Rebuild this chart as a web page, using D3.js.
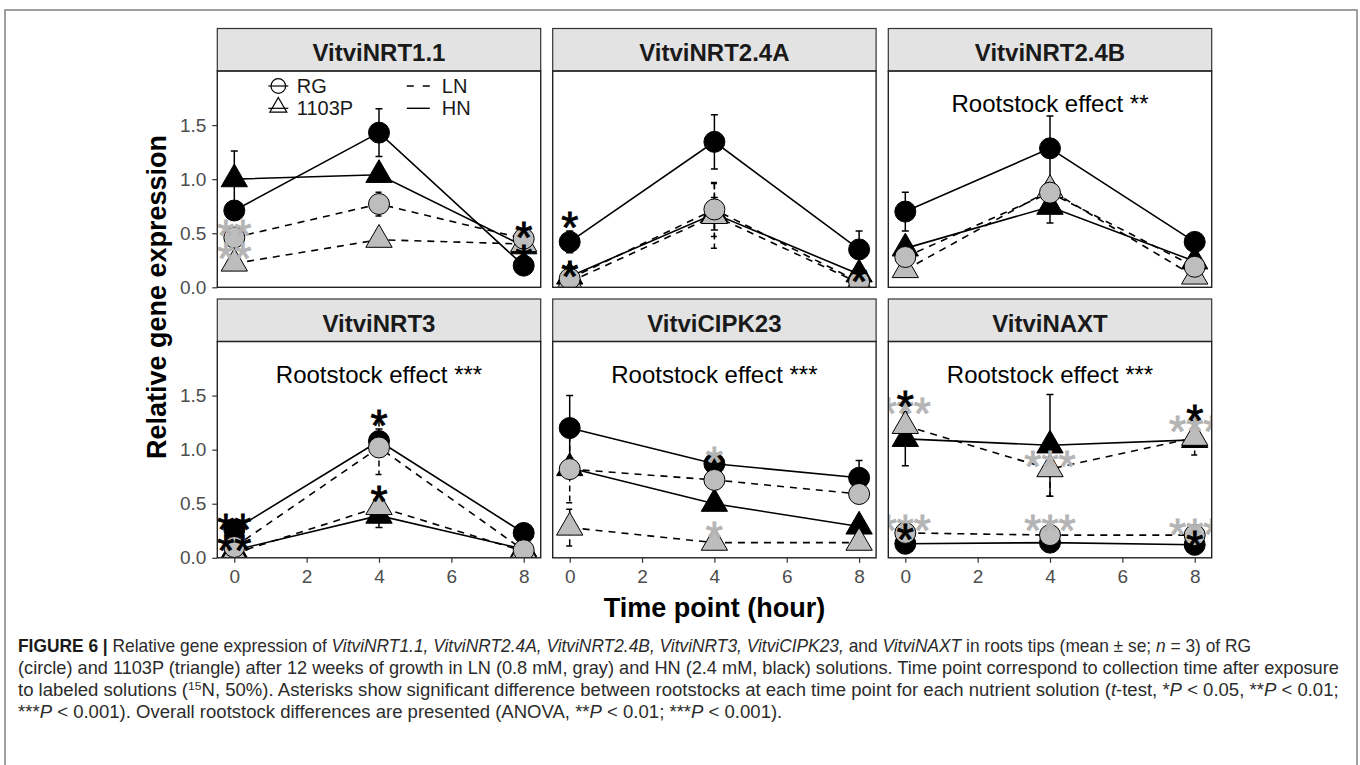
<!DOCTYPE html>
<html>
<head>
<meta charset="utf-8">
<script src="https://cdn.jsdelivr.net/npm/d3@7"></script>
<style>
  body { margin: 0; background: #fff; }
  text { font-family: "Liberation Sans", Arial, sans-serif; }
</style>
</head>
<body>
<div id="chart"></div>
<script>
// --- data ---
const times = [0, 4, 8];
const genes = ["VitviNRT1.1", "VitviNRT2.4A", "VitviNRT2.4B", "VitviNRT3", "VitviCIPK23", "VitviNAXT"];
const effectLabels = ["", "", "Rootstock effect **", "Rootstock effect ***", "Rootstock effect ***", "Rootstock effect ***"];

// mean relative expression per gene at times 0, 4, 8
const rgHN = [[0.71, 1.43, 0.20], [0.42, 1.345, 0.35], [0.70, 1.285, 0.42], [0.26, 1.08, 0.23], [1.20, 0.87, 0.74], [0.13, 0.14, 0.12]];
const rgLN = [[0.46, 0.77, 0.45], [0.08, 0.72, 0.05], [0.28, 0.875, 0.19], [0.10, 1.02, 0.07], [0.82, 0.72, 0.59], [0.23, 0.21, 0.21]];
const p1103HN = [[1.00, 1.04, 0.38], [0.10, 0.68, 0.12], [0.36, 0.745, 0.24], [0.07, 0.39, 0.08], [0.83, 0.50, 0.29], [1.10, 1.04, 1.09]];
const p1103LN = [[0.22, 0.44, 0.40], [0.05, 0.66, 0.04], [0.16, 0.90, 0.10], [0.04, 0.47, 0.06], [0.28, 0.14, 0.14], [1.22, 0.82, 1.11]];

// standard errors
const rgHNse = [[0.05, 0.22, 0.03], [0.10, 0.25, 0.17], [0.18, 0.30, 0.03], [0.04, 0.11, 0.03], [0.30, 0.05, 0.16], [0.02, 0.02, 0.02]];
const rgLNse = [[0.04, 0.11, 0.04], [0.03, 0.25, 0.03], [0.03, 0.10, 0.03], [0.03, 0.25, 0.02], [0.31, 0.05, 0.04], [0.02, 0.02, 0.02]];
const p1103HNse = [[0.26, 0.05, 0.03], [0.03, 0.15, 0.03], [0.03, 0.15, 0.03], [0.02, 0.11, 0.02], [0.05, 0.05, 0.03], [0.25, 0.47, 0.03]];
const p1103LNse = [[0.03, 0.03, 0.03], [0.02, 0.30, 0.02], [0.02, 0.05, 0.02], [0.02, 0.05, 0.02], [0.17, 0.05, 0.02], [0.12, 0.25, 0.16]];

// t-test asterisks: [gene index, time, level, label, solution]
const stars = [
  [0, 0, 0.57, "**", "LN"], [0, 0, 0.35, "**", "LN"], [0, 8, 0.55, "*", "HN"], [0, 8, 0.33, "*", "HN"],
  [1, 0, 0.64, "*", "HN"], [1, 0, 0.19, "*", "HN"], [1, 8, 0.14, "*", "HN"],
  [3, 0, 0.35, "**", "HN"], [3, 0, 0.15, "**", "HN"], [3, 4, 1.31, "*", "HN"], [3, 4, 0.61, "*", "HN"],
  [4, 4, 0.97, "*", "LN"], [4, 4, 0.27, "*", "LN"],
  [5, 0, 1.42, "***", "LN"], [5, 0, 1.49, "*", "HN"], [5, 4, 0.93, "***", "LN"], [5, 8, 1.25, "***", "LN"], [5, 8, 1.36, "*", "HN"],
  [5, 0, 0.335, "***", "LN"], [5, 0, 0.26, "*", "HN"], [5, 4, 0.335, "***", "LN"], [5, 8, 0.30, "***", "LN"], [5, 8, 0.195, "*", "HN"]
];

const rootstocks = ["RG", "1103P"];
const solutions = ["LN", "HN"];
const xTicks = [0, 2, 4, 6, 8];
const yTicks = [0, 0.5, 1, 1.5];

const captionLines = [
  [["FIGURE 6 | ", "b"], ["Relative gene expression of ", ""], ["VitviNRT1.1, VitviNRT2.4A, VitviNRT2.4B, VitviNRT3, VitviCIPK23,", "i"], [" and ", ""], ["VitviNAXT", "i"], [" in roots tips (mean \u00b1 se; ", ""], ["n", "i"], [" = 3) of RG", ""]],
  [["(circle) and 1103P (triangle) after 12 weeks of growth in LN (0.8 mM, gray) and HN (2.4 mM, black) solutions. Time point correspond to collection time after exposure", ""]],
  [["to labeled solutions (", ""], ["15", "sup"], ["N, 50%). Asterisks show significant difference between rootstocks at each time point for each nutrient solution (", ""], ["t", "i"], ["-test, *", ""], ["P", "i"], [" < 0.05, **", ""], ["P", "i"], [" < 0.01;", ""]],
  [["***", ""], ["P", "i"], [" < 0.001). Overall rootstock differences are presented (ANOVA, **", ""], ["P", "i"], [" < 0.01; ***", ""], ["P", "i"], [" < 0.001).", ""]]
];

// --- layout ---
const W = 1360, H = 765;
const pw = 323.4, ph = 216.3, stripH = 42.5;
const colX = [217.3, 552.7, 888.3];
const rowTop = [71, 341.5];
const grayFill = "#bdbdbd", grayStar = "#b4b4b4";
const starSize = 44;

const series = [
  { shape: "tri", sol: "HN", vals: p1103HN, se: p1103HNse },
  { shape: "tri", sol: "LN", vals: p1103LN, se: p1103LNse },
  { shape: "circ", sol: "HN", vals: rgHN, se: rgHNse },
  { shape: "circ", sol: "LN", vals: rgLN, se: rgLNse }
];

const svg = d3.select("#chart").append("svg").attr("width", W).attr("height", H);
svg.append("rect").attr("width", W).attr("height", H).attr("fill", "#fff");
svg.append("rect").attr("x", 5).attr("y", 10).attr("width", 1352).attr("height", 780)
  .attr("fill", "none").attr("stroke", "#808080").attr("stroke-width", 1.5);

const defs = svg.append("defs");
const x = d3.scaleLinear().domain([-0.47, 8.47]).range([0, pw]);
const y = d3.scaleLinear().domain([0, 2]).range([ph, 0]);
const line = d3.line().x((d, i) => x(times[i])).y((d) => y(d));
const tri = (size) => d3.symbol(d3.symbolTriangle, size)();

genes.forEach((gene, gi) => {
  const col = gi % 3, row = Math.floor(gi / 3);
  const g = svg.append("g").attr("transform", `translate(${colX[col]},${rowTop[row]})`);

  // strip
  g.append("rect").attr("y", -stripH).attr("width", pw).attr("height", stripH)
    .attr("fill", "#e3e3e3").attr("stroke", "#333").attr("stroke-width", 1.2);
  g.append("text").attr("x", pw / 2).attr("y", -stripH + 32.5).attr("text-anchor", "middle")
    .attr("font-size", 24).attr("font-weight", "bold").attr("fill", "#1a1a1a").text(gene);

  defs.append("clipPath").attr("id", "clip" + gi)
    .append("rect").attr("width", pw).attr("height", ph);
  const body = g.append("g").attr("clip-path", `url(#clip${gi})`);

  // error bars
  series.forEach((s) => {
    s.vals[gi].forEach((v, i) => {
      const lo = y(v - s.se[gi][i]), hi = y(v + s.se[gi][i]), cx = x(times[i]);
      const eb = body.append("path")
        .attr("d", `M${cx - 3.5},${hi}H${cx + 3.5}M${cx},${hi}V${lo}M${cx - 3.5},${lo}H${cx + 3.5}`)
        .attr("fill", "none").attr("stroke", "#000").attr("stroke-width", 1.5);
      if (s.sol === "LN") eb.attr("stroke-dasharray", "6,4");
    });
  });

  // lines
  series.forEach((s) => {
    body.append("path").attr("d", line(s.vals[gi])).attr("fill", "none")
      .attr("stroke", "#000").attr("stroke-width", 1.6)
      .attr("stroke-dasharray", s.sol === "LN" ? "7,6" : null);
  });

  // points
  series.forEach((s) => {
    const fill = s.sol === "LN" ? grayFill : "#000";
    s.vals[gi].forEach((v, i) => {
      if (s.shape === "circ") {
        body.append("circle").attr("cx", x(times[i])).attr("cy", y(v)).attr("r", 10.5)
          .attr("fill", fill).attr("stroke", "#000").attr("stroke-width", 1);
      } else {
        body.append("path").attr("d", tri(300))
          .attr("transform", `translate(${x(times[i])},${y(v)})`)
          .attr("fill", fill).attr("stroke", "#000").attr("stroke-width", 1);
      }
    });
  });

  // significance asterisks
  stars.filter((d) => d[0] === gi).forEach((d) => {
    const c = d[4] === "LN" ? grayStar : "#000";
    body.append("text").attr("x", x(d[1])).attr("y", y(d[2]) + starSize * 0.565)
      .attr("text-anchor", "middle").attr("font-size", starSize)
      .attr("fill", c).attr("stroke", c).attr("stroke-width", 0.9).text(d[3]);
  });

  if (effectLabels[gi]) {
    g.append("text").attr("x", pw / 2).attr("y", y(1.62)).attr("text-anchor", "middle")
      .attr("font-size", 24).attr("fill", "#000").text(effectLabels[gi]);
  }

  // panel border
  g.append("rect").attr("width", pw).attr("height", ph).attr("fill", "none")
    .attr("stroke", "#222").attr("stroke-width", 1.4);

  if (col === 0) {
    const ay = g.append("g")
      .call(d3.axisLeft(y).tickValues(yTicks).tickFormat(d3.format(".1f")).tickSize(5).tickPadding(6));
    ay.select(".domain").remove();
    ay.attr("font-size", 19).attr("font-family", "Liberation Sans, Arial, sans-serif").attr("color", "#4d4d4d");
    ay.selectAll("line").attr("stroke", "#333").attr("stroke-width", 1.2);
  }
  if (row === 1) {
    const ax = g.append("g").attr("transform", `translate(0,${ph})`)
      .call(d3.axisBottom(x).tickValues(xTicks).tickSize(5).tickPadding(7));
    ax.select(".domain").remove();
    ax.attr("font-size", 19).attr("font-family", "Liberation Sans, Arial, sans-serif").attr("color", "#4d4d4d");
    ax.selectAll("line").attr("stroke", "#333").attr("stroke-width", 1.2);
  }

  // legend in the first panel
  if (gi === 0) {
    const lg = g.append("g");
    rootstocks.forEach((r, i) => {
      const ly = 15 + i * 22.3;
      lg.append("line").attr("x1", 51).attr("x2", 71).attr("y1", ly).attr("y2", ly)
        .attr("stroke", "#000").attr("stroke-width", 1.2);
      if (i === 0) {
        lg.append("circle").attr("cx", 61).attr("cy", ly).attr("r", 7.3)
          .attr("fill", "none").attr("stroke", "#000").attr("stroke-width", 1.2);
      } else {
        lg.append("path").attr("d", tri(125)).attr("transform", `translate(61,${ly - 1})`)
          .attr("fill", "none").attr("stroke", "#000").attr("stroke-width", 1.2);
      }
      lg.append("text").attr("x", 79.5).attr("y", ly + 7).attr("font-size", 20)
        .attr("fill", "#1a1a1a").text(r);
    });
    solutions.forEach((s, i) => {
      const ly = 15 + i * 22.3;
      lg.append("line").attr("x1", 189.5).attr("x2", 212.5).attr("y1", ly).attr("y2", ly)
        .attr("stroke", "#000").attr("stroke-width", 1.4)
        .attr("stroke-dasharray", s === "LN" ? "7,9" : null);
      lg.append("text").attr("x", 224.5).attr("y", ly + 7).attr("font-size", 20)
        .attr("fill", "#1a1a1a").text(s);
    });
  }
});

// axis titles
svg.append("text").attr("transform", "translate(166,297) rotate(-90)").attr("text-anchor", "middle")
  .attr("font-size", 27).attr("font-weight", "bold").attr("fill", "#000").text("Relative gene expression");
svg.append("text").attr("x", 714.5).attr("y", 617).attr("text-anchor", "middle")
  .attr("font-size", 27).attr("font-weight", "bold").attr("fill", "#000").text("Time point (hour)");

// caption, each line squeezed to the width it has in the figure
const captionBase = [652, 674, 696, 718];
const captionEnd = [1252, 1340, 1340, 783];
captionLines.forEach((segs, li) => {
  const t = svg.append("text").attr("font-size", 17.5).attr("fill", "#2b2b2b")
    .attr("font-family", "'Liberation Sans Narrow', 'Arial Narrow', 'Liberation Sans', sans-serif");
  let lift = 0;
  segs.forEach(([str, st]) => {
    const sp = t.append("tspan").text(str);
    if (st === "b") sp.attr("font-weight", "bold").attr("fill", "#1a1a1a");
    if (st === "i") sp.attr("font-style", "italic");
    if (st === "sup") { sp.attr("font-size", 11.5).attr("dy", -6.5); lift = 6.5; }
    else if (lift) { sp.attr("dy", lift); lift = 0; }
  });
  const w = t.node().getBBox().width;
  const s = (captionEnd[li] - 18) / w;
  t.attr("transform", `translate(18,${captionBase[li]}) scale(${s},1)`);
});
</script>
</body>
</html>
